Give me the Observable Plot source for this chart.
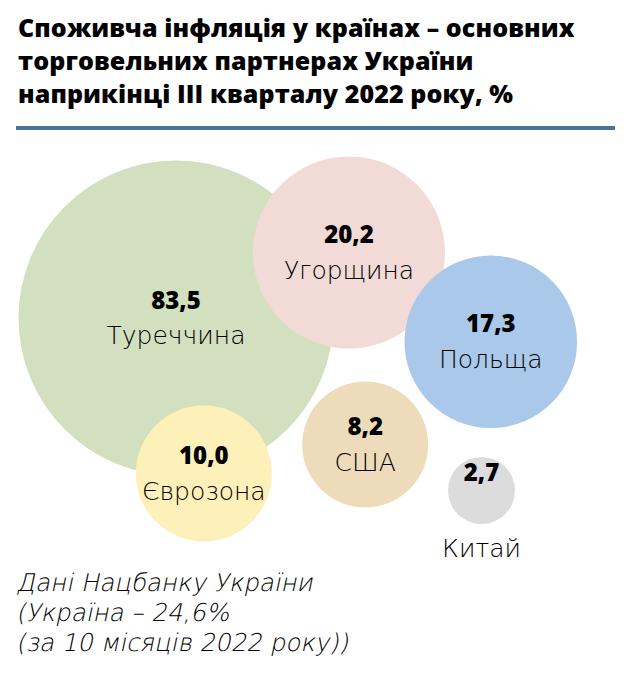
<!DOCTYPE html>
<html><head><meta charset="utf-8">
<script src="https://cdn.jsdelivr.net/npm/d3@7"></script>
<script src="https://cdn.jsdelivr.net/npm/@observablehq/plot@0.6"></script>
<style>
body{margin:0;background:#fff;font-family:"Open Sans",sans-serif;width:634px;height:674px;position:relative;overflow:hidden;}
#title{position:absolute;left:18px;top:11px;font-family:"Open Sans",sans-serif;font-weight:800;font-size:25px;line-height:33px;color:#000;letter-spacing:0.1px;}
#rule{position:absolute;left:16px;top:126px;width:599px;height:4px;background:#4a7298;}
#chart{position:absolute;left:0;top:140px;}
#caption{position:absolute;left:16px;top:568px;font-family:"DejaVu Sans",sans-serif;font-style:normal;font-weight:200;font-size:24.5px;line-height:30px;color:#000;}
#caption span{display:block;transform:skewX(-12deg);transform-origin:0 78%;white-space:nowrap;}
g[aria-label="names"] text{letter-spacing:0.3px;}
</style>
</head><body>
<div id="title">Споживча інфляція у країнах – основних<br>торговельних партнерах України<br>наприкінці ІІІ кварталу 2022 року, %</div>
<div id="rule"></div>
<div id="chart"></div>
<div id="caption"><span>Дані Нацбанку України</span><span>(Україна – 24,6%</span><span>(за 10 місяців 2022 року))</span></div>
<script>
const countries = ["Туреччина","Угорщина","Польща","Єврозона","США","Китай"];
const values = [83.5, 20.2, 17.3, 10.0, 8.2, 2.7];
const valueLabels = ["83,5","20,2","17,3","10,0","8,2","2,7"];
// bubble layout (centres, in page units)
const layoutX = [175.5, 348.5, 490.3, 203.3, 364.7, 481];
const layoutY = [317.5, 252, 341.3, 473, 444, 490];
const fills = ["#d3e0bf","#f2dbd6","#aac8ea","#fef0b9","#eedbba","#dcdcdc"];

const data = countries.map((c, i) => ({country: c, value: values[i], label: valueLabels[i], x: layoutX[i], y: layoutY[i]}));
const inside = data.filter(d => d.country !== "Китай");
const outside = data.filter(d => d.country === "Китай");

const chart = Plot.plot({
  width: 634,
  height: 430,
  margin: 0,
  x: {domain: [0, 634], range: [0, 634], axis: null},
  y: {domain: [140, 570], range: [0, 430], axis: null},
  r: {type: "linear", domain: [2.7, 8.2, 10, 17.3, 20.2, 83.5], range: [33.5, 63, 68, 86.3, 96, 157.5]},
  color: {domain: countries, range: fills},
  marks: [
    Plot.dot(data, {x: "x", y: "y", r: "value", fill: "country", stroke: null}),
    Plot.text(data, {x: "x", y: "y", text: "label", dy: -17, fontSize: 24, fontWeight: 800, fontFamily: "Open Sans", fill: "#000", ariaLabel: "values"}),
    Plot.text(inside, {x: "x", y: "y", text: "country", dy: 18, fontSize: 25, fontWeight: 200, fontFamily: "DejaVu Sans", fill: "#000", ariaLabel: "names"}),
    Plot.text(outside, {x: "x", y: "y", text: "country", dy: 58, fontSize: 25, fontWeight: 200, fontFamily: "DejaVu Sans", fill: "#000", ariaLabel: "names"})
  ]
});
document.getElementById("chart").appendChild(chart);
</script>
</body></html>
